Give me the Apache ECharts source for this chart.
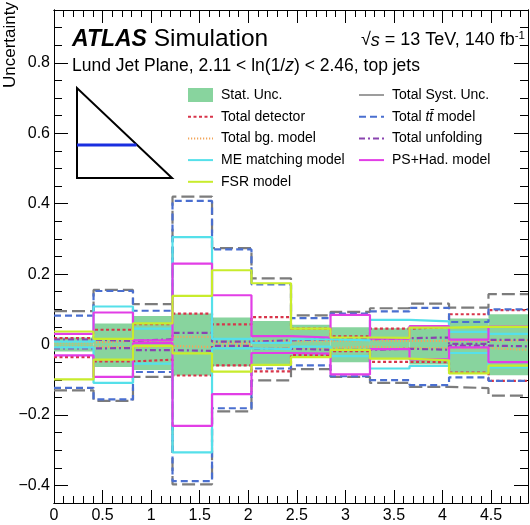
<!DOCTYPE html>
<html><head><meta charset="utf-8">
<script src="https://cdn.jsdelivr.net/npm/echarts@6/dist/echarts.min.js"></script>
<style>html,body{margin:0;padding:0;background:#fff}#c{width:530px;height:525px}</style>
</head><body><div id="c"></div>
<script>
// ---- data ----
const binEdges = [0, 0.407, 0.813, 1.22, 1.627, 2.033, 2.44, 2.847, 3.253, 3.66, 4.067, 4.473, 4.88];

const statUp   = [0.020, 0.060, 0.081, 0.088, 0.077, 0.067, 0.056, 0.049, 0.046, 0.050, 0.074, 0.086];
const statDown = [-0.020, -0.064, -0.072, -0.088, -0.062, -0.057, -0.036, -0.050, -0.042, -0.057, -0.082, -0.087];

const systUp   = [0.095, 0.155, 0.115, 0.420, 0.274, 0.188, 0.083, 0.093, 0.103, 0.116, 0.105, 0.143];
const systDown = [-0.130, -0.160, -0.092, -0.397, -0.190, -0.102, -0.070, -0.092, -0.109, -0.120, -0.124, -0.145];

const detUp    = [0.018, 0.042, 0.058, 0.088, 0.057, 0.078, 0.045, 0.023, 0.045, 0.050, 0.086, 0.098];
const detDown  = [-0.036, -0.048, -0.043, -0.088, -0.059, -0.076, -0.030, -0.019, -0.049, -0.050, -0.080, -0.103];

const ttUp     = [0.082, 0.152, 0.096, 0.408, 0.270, 0.171, 0.075, 0.088, 0.094, 0.104, 0.064, 0.100];
const ttDown   = [-0.123, -0.156, -0.078, -0.388, -0.181, -0.068, -0.059, -0.090, -0.101, -0.115, -0.093, -0.103];

const bgUp     = [0.006, 0.010, 0.006, 0.022, 0.004, 0.010, 0.010, 0.012, 0.010, 0.010, 0.010, 0.012];
const bgDown   = [-0.006, -0.008, -0.004, -0.007, -0.002, -0.010, -0.010, -0.006, -0.010, -0.010, -0.010, -0.015];

const unfUp    = [0.014, 0.010, 0.015, 0.033, 0.008, 0.012, 0.015, 0.015, 0.018, 0.020, 0.002, 0.013];
const unfDown  = [-0.011, -0.010, -0.016, -0.018, -0.004, -0.012, -0.015, -0.015, -0.012, -0.015, -0.003, -0.005];

const meUp     = [0.008, 0.108, 0.045, 0.305, 0.016, 0.005, 0.015, 0.012, 0.070, 0.066, 0.036, 0.030];
const meDown   = [-0.008, -0.109, -0.054, -0.306, -0.011, -0.013, -0.006, -0.033, -0.068, -0.061, -0.024, -0.065];

const psUp     = [0.030, 0.091, 0.012, 0.230, 0.140, 0.024, 0.020, 0.084, 0.017, 0.052, 0.014, 0.051];
const psDown   = [-0.031, -0.092, 0.004, -0.231, -0.141, -0.024, -0.026, -0.085, -0.013, -0.042, -0.008, -0.050];

const fsrUp    = [0.037, 0.016, 0.060, 0.138, 0.211, 0.174, 0.045, 0.020, 0.019, 0.048, 0.050, 0.050];
const fsrDown  = [-0.099, -0.043, -0.004, -0.025, -0.077, -0.058, -0.036, -0.015, -0.040, -0.045, -0.082, -0.060];

const xMajorTicks = [0, 0.5, 1, 1.5, 2, 2.5, 3, 3.5, 4, 4.5];
const yMajorTicks = [-0.4, -0.2, 0, 0.2, 0.4, 0.6, 0.8];
const xMinorTicks = []; for (let i = 0; i <= 48; i++) xMinorTicks.push(+(i * 0.1).toFixed(2));
const yMinorTicks = []; for (let i = -9; i <= 19; i++) yMinorTicks.push(+(i * 0.05).toFixed(3));

const X_MIN = 0, X_MAX = 4.88, Y_MIN = -0.45, Y_MAX = 0.95;

// ---- styles ----
const FONT = 'Liberation Sans, Arial, Helvetica, sans-serif';
const C = {
  stat: '#88d49e', syst: '#7c7c7c', det: '#d8344a', tt: '#4a6fd0',
  bg: '#f2a65a', unf: '#8a44b0', me: '#55e0ea', ps: '#e23ee6', fsr: '#c8ec2c'
};

function stepData(vals) {
  const d = vals.map((v, i) => [binEdges[i], v]);
  d.push([binEdges[vals.length], vals[vals.length - 1]]);
  return d;
}
function lineSeries(name, vals, color, dash, width) {
  return {
    type: 'line', name, step: 'end', symbol: 'none', showSymbol: false,
    data: stepData(vals), silent: true, clip: true,
    lineStyle: { color, width: width || 2.2, type: dash },
    itemStyle: { color }, z: 3
  };
}
const pairs = [
  ['Total Syst. Unc.', systUp, systDown, C.syst, [13, 5]],
  ['Total detector', detUp, detDown, C.det, [3, 2.5]],
  ['Total t\u0074\u0304 model', ttUp, ttDown, C.tt, [7, 4]],
  ['Total bg. model', bgUp, bgDown, C.bg, [1.2, 1.8]],
  ['Total unfolding', unfUp, unfDown, C.unf, [6, 3, 2, 3]],
  ['ME matching model', meUp, meDown, C.me, 'solid'],
  ['PS+Had. model', psUp, psDown, C.ps, 'solid'],
  ['FSR model', fsrUp, fsrDown, C.fsr, 'solid']
];

const series = [{
  type: 'custom', name: 'Stat. Unc.', z: 1, silent: true,
  itemStyle: { color: C.stat },
  encode: { x: [0, 1], y: [2, 3] },
  data: statUp.map((u, i) => [binEdges[i], binEdges[i + 1], statDown[i], u]),
  renderItem(params, api) {
    const p0 = api.coord([api.value(0), api.value(3)]);
    const p1 = api.coord([api.value(1), api.value(2)]);
    return { type: 'rect', shape: { x: p0[0], y: p0[1], width: p1[0] - p0[0], height: p1[1] - p0[1] },
             style: { fill: C.stat } };
  }
}];
pairs.forEach(p => {
  series.push(lineSeries(p[0], p[1], p[3], p[4]));
  series.push(lineSeries(p[0], p[2], p[3], p[4]));
});

function xAxis(pos, ticks, len, labels) {
  return {
    type: 'value', position: pos, min: X_MIN, max: X_MAX,
    axisLine: { show: true, onZero: false, lineStyle: { color: '#000', width: 1 } },
    axisTick: { show: true, inside: true, length: len, customValues: ticks, lineStyle: { color: '#000', width: 1 } },
    axisLabel: { show: labels, customValues: xMajorTicks, color: '#000', fontFamily: FONT, fontSize: 16, margin: 5 },
    splitLine: { show: false }
  };
}
function yAxis(pos, ticks, len, labels) {
  return {
    type: 'value', position: pos, min: Y_MIN, max: Y_MAX,
    axisLine: { show: true, onZero: false, lineStyle: { color: '#000', width: 1 } },
    axisTick: { show: true, inside: true, length: len, customValues: ticks, lineStyle: { color: '#000', width: 1 } },
    axisLabel: { show: labels, customValues: yMajorTicks, color: '#000', fontFamily: FONT, fontSize: 16, margin: 4,
      formatter: v => (v < 0 ? '\u2212' + String(+(-v).toFixed(2)) : String(+v.toFixed(2))) },
    splitLine: { show: false }
  };
}

const legendText = {
  color: '#000', fontFamily: FONT, fontSize: 14, lineHeight: 14, padding: [0, 0, 0, 3],
  rich: { it: { fontStyle: 'italic', fontFamily: FONT, fontSize: 14, color: '#000' },
          n: { fontFamily: FONT, fontSize: 14, color: '#000' } }
};
const legendFmt = name => name.indexOf('\u0304') >= 0 ? '{n|Total }{it|t}{it|t\u0304}{n| model}' : name;
const legendCommon = {
  orient: 'vertical', top: 88, padding: 0, itemWidth: 25, itemHeight: 14, itemGap: 7.7,
  textStyle: legendText, formatter: legendFmt, selectedMode: false,
  itemStyle: { opacity: 0 }
};

const option = {
  animation: false,
  backgroundColor: '#fff',
  grid: { left: 54, right: 2, top: 10, bottom: 22, containLabel: false },
  xAxis: [ xAxis('bottom', xMajorTicks, 13, true), xAxis('bottom', xMinorTicks, 7, false),
           xAxis('top', xMajorTicks, 13, false), xAxis('top', xMinorTicks, 7, false) ],
  yAxis: [ yAxis('left', yMajorTicks, 14, true), yAxis('left', yMinorTicks, 8, false),
           yAxis('right', yMajorTicks, 14, false), yAxis('right', yMinorTicks, 8, false) ],
  legend: [
    Object.assign({}, legendCommon, { left: 187,
      data: [{ name: 'Stat. Unc.', icon: 'rect', itemStyle: { opacity: 1, color: C.stat } },
             'Total detector', 'Total bg. model', 'ME matching model', 'FSR model'] }),
    Object.assign({}, legendCommon, { left: 358,
      data: [{ name: 'Total Syst. Unc.', lineStyle: { type: 'solid', width: 1.5 } },
             'Total t\u0074\u0304 model', 'Total unfolding', 'PS+Had. model'] })
  ],
  graphic: [
    { type: 'text', x: 2, y: 2, rotation: Math.PI / 2,
      style: { text: 'Uncertainty', fontFamily: FONT, fontSize: 17, fill: '#000', align: 'right', verticalAlign: 'top' } },
    { type: 'text', x: 72, y: 52,
      style: { text: '{b|ATLAS}{n| Simulation}', verticalAlign: 'bottom', align: 'left',
        rich: { b: { fontFamily: FONT, fontSize: 23, fontWeight: 'bold', fontStyle: 'italic', fill: '#000' },
                n: { fontFamily: FONT, fontSize: 24.5, fill: '#000' } } } },
    { type: 'text', x: 525, y: 51,
      style: { text: '{n|\u221A}{i|s}{n| = 13 TeV, 140 fb}{s|-1}', verticalAlign: 'bottom', align: 'right',
        rich: { n: { fontFamily: FONT, fontSize: 18, fill: '#000' },
                i: { fontFamily: FONT, fontSize: 18, fontStyle: 'italic', fill: '#000' },
                s: { fontFamily: FONT, fontSize: 11.5, fill: '#000', verticalAlign: 'top', lineHeight: 21 } } } },
    { type: 'text', x: 72, y: 75,
      style: { text: '{n|Lund Jet Plane, 2.11 < ln(1/}{i|z}{n|) < 2.46, top jets}', verticalAlign: 'bottom', align: 'left',
        rich: { n: { fontFamily: FONT, fontSize: 17.5, fill: '#000' },
                i: { fontFamily: FONT, fontSize: 17.5, fontStyle: 'italic', fill: '#000' } } } },
    { type: 'polygon', shape: { points: [[77, 88], [77, 178], [172, 178]] },
      style: { fill: 'none', stroke: '#000', lineWidth: 2 } },
    { type: 'line', shape: { x1: 77, y1: 145, x2: 136.5, y2: 145 },
      style: { stroke: '#1a2ee0', lineWidth: 3 } }
  ],
  series
};
const chart = echarts.init(document.getElementById('c'), null, { renderer: 'canvas' });
chart.setOption(option);
</script></body></html>
